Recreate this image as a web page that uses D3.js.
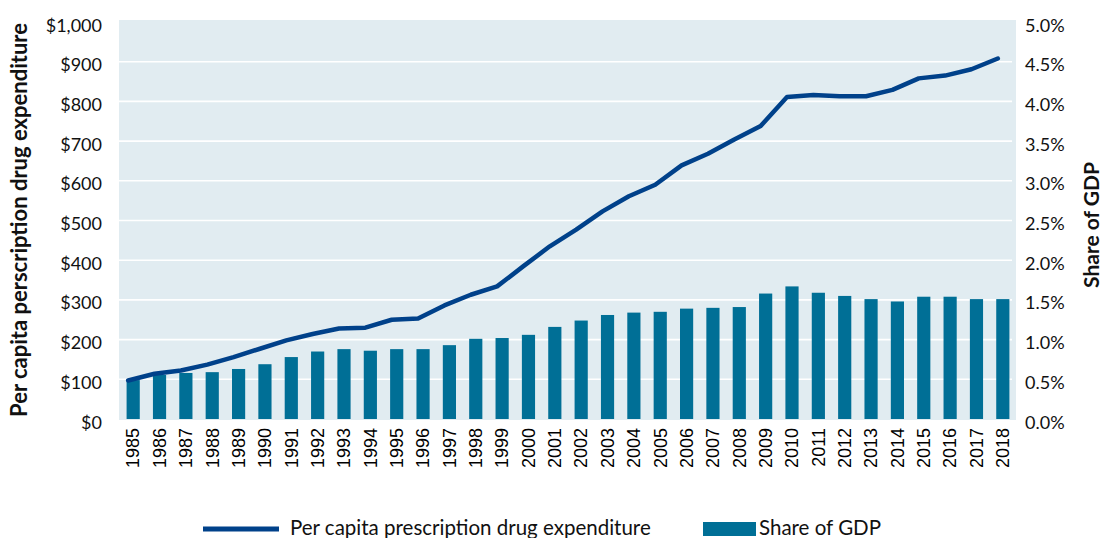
<!DOCTYPE html>
<html>
<head>
<meta charset="utf-8">
<script src="https://cdn.jsdelivr.net/npm/d3@7"></script>
<style>
  body { margin: 0; background: #fff; }
  svg { display: block; }
  .tick text { font-family: Lato, "Open Sans", sans-serif; }
</style>
</head>
<body>
<svg id="chart" width="1104" height="538"></svg>
<script>
// data
var years = ['1985','1986','1987','1988','1989','1990','1991','1992','1993','1994',
  '1995','1996','1997','1998','1999','2000','2001','2002','2003','2004','2005','2006',
  '2007','2008','2009','2010','2011','2012','2013','2014','2015','2016','2017','2018'];
var perCapita = [97, 114, 122, 137, 156, 177, 198, 214, 228, 230,
  250, 253, 286, 313, 334, 385, 435, 477, 523, 561, 590, 639,
  668, 704, 738, 811, 816, 813, 813, 829, 858, 865, 881, 908];
var shareGDP = [0.49, 0.555, 0.58, 0.59, 0.63, 0.69, 0.78, 0.85, 0.88, 0.86,
  0.88, 0.88, 0.93, 1.01, 1.02, 1.06, 1.16, 1.24, 1.31, 1.34, 1.35, 1.39,
  1.40, 1.41, 1.58, 1.67, 1.59, 1.55, 1.51, 1.48, 1.54, 1.54, 1.51, 1.51];
var dollarTicks = [0,100,200,300,400,500,600,700,800,900,1000];
var pctTicks = [0,0.5,1,1.5,2,2.5,3,3.5,4,4.5,5];

var lineColor = '#00418a';
var barColor = '#006f96';

var svg = d3.select('#chart');

var plotLeft = 120, plotRight = 1016, plotTop = 22, plotBottom = 419;

var x = d3.scaleBand().domain(years).range([plotLeft, plotRight]).paddingInner(0.5).paddingOuter(0.25);
var yL = d3.scaleLinear().domain([0, 1000]).range([plotBottom, plotTop]);
var yR = d3.scaleLinear().domain([0, 5]).range([plotBottom, plotTop]);

// plot background
svg.append('rect')
  .attr('x', 119).attr('y', 20)
  .attr('width', 897).attr('height', plotBottom + 1 - 20)
  .style('fill', '#e1ecf1');

// gridlines
svg.append('g')
  .selectAll('line')
  .data(dollarTicks.filter(function(d){ return d > 0 && d < 1000; }))
  .enter().append('line')
  .attr('x1', 119).attr('x2', 1012)
  .attr('y1', function(d){ return yL(d); })
  .attr('y2', function(d){ return yL(d); })
  .style('stroke', '#fff')
  .style('stroke-width', 1.6);

// bars
svg.append('g')
  .selectAll('rect')
  .data(years)
  .enter().append('rect')
  .attr('x', function(d){ return x(d); })
  .attr('width', x.bandwidth())
  .attr('y', function(d, i){ return yR(shareGDP[i]); })
  .attr('height', function(d, i){ return yR(0) - yR(shareGDP[i]); })
  .style('fill', barColor);

// line (sits a few px left of the bar centres, as in the original)
var line = d3.line()
  .x(function(d, i){ return x(years[i]) + x.bandwidth() / 2 - 5; })
  .y(function(d){ return yL(d); });

svg.append('path')
  .datum(perCapita)
  .attr('d', line)
  .style('fill', 'none')
  .style('stroke', lineColor)
  .style('stroke-width', 4.5)
  .style('stroke-linecap', 'round')
  .style('stroke-linejoin', 'round');

// axes
var yAxisL = d3.axisLeft(yL).tickValues(dollarTicks).tickSize(0).tickPadding(0)
  .tickFormat(function(d){ return '$' + d3.format(',')(d); });
var gL = svg.append('g').attr('transform', 'translate(102,0)').call(yAxisL);
gL.select('.domain').remove();
gL.selectAll('text').style('font-size', '18px').style('fill', '#111').attr('dy', '0.5em');

var yAxisR = d3.axisRight(yR).tickValues(pctTicks).tickSize(0).tickPadding(0)
  .tickFormat(function(d){ return d3.format('.1f')(d) + '%'; });
var gR = svg.append('g').attr('transform', 'translate(1025,0)').call(yAxisR);
gR.select('.domain').remove();
gR.selectAll('text').style('font-size', '18px').style('fill', '#111').attr('dy', '0.5em');

var xAxis = d3.axisBottom(x).tickSize(0).tickPadding(0);
var gX = svg.append('g').attr('transform', 'translate(0,' + plotBottom + ')').call(xAxis);
gX.select('.domain').remove();
gX.selectAll('text')
  .style('font-family', '"Liberation Sans", Arial, sans-serif')
  .style('font-size', '18px')
  .style('fill', '#000')
  .style('text-anchor', 'end')
  .attr('transform', 'rotate(-90)')
  .attr('x', -9)
  .attr('y', 0)
  .attr('dy', '0.35em');

// axis titles
svg.append('text')
  .attr('transform', 'translate(27,220) rotate(-90)')
  .style('text-anchor', 'middle')
  .style('font-family', 'Lato, sans-serif')
  .style('font-weight', 'bold')
  .style('font-size', '22px')
  .style('fill', '#111')
  .text('Per capita perscription drug expenditure');

svg.append('text')
  .attr('transform', 'translate(1099,225) rotate(-90)')
  .style('text-anchor', 'middle')
  .style('font-family', 'Lato, sans-serif')
  .style('font-weight', 'bold')
  .style('font-size', '21px')
  .style('fill', '#111')
  .text('Share of GDP');

// legend
var legend = svg.append('g').style('font-family', 'Lato, sans-serif').style('font-size', '20.5px');
legend.append('line')
  .attr('x1', 203).attr('x2', 279).attr('y1', 529).attr('y2', 529)
  .style('stroke', lineColor).style('stroke-width', 5);
legend.append('text').attr('x', 290).attr('y', 535).style('fill', '#111')
  .text('Per capita prescription drug expenditure');
legend.append('rect')
  .attr('x', 703).attr('y', 522).attr('width', 53).attr('height', 14)
  .style('fill', barColor);
legend.append('text').attr('x', 759).attr('y', 535).style('fill', '#111')
  .text('Share of GDP');
</script>
</body>
</html>
